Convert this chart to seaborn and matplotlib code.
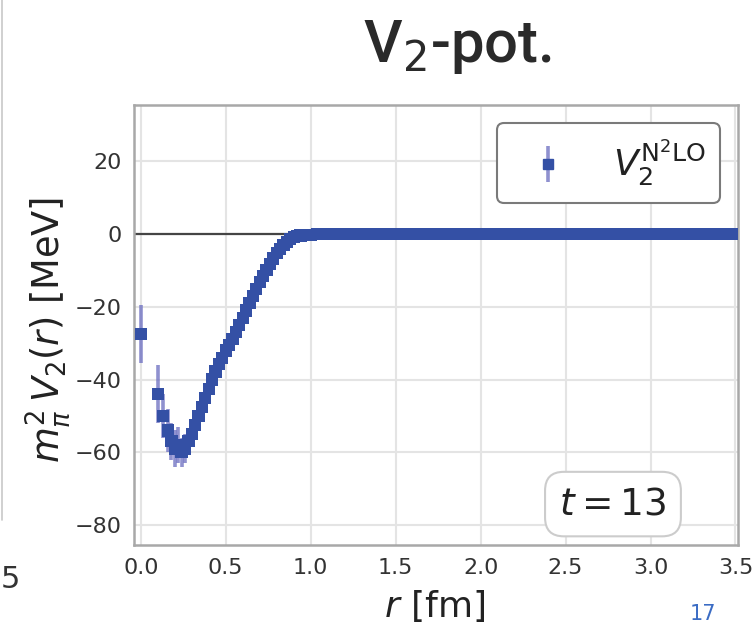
import numpy as np
import pandas as pd
import matplotlib
matplotlib.use("Agg")
import matplotlib.pyplot as plt
from matplotlib.lines import Line2D
from matplotlib.legend_handler import HandlerTuple
import seaborn as sns

# ---- data ----
r_core = [0.00, 0.10, 0.13, 0.16, 0.18, 0.20, 0.22, 0.24, 0.26, 0.28,
          0.30, 0.32, 0.34, 0.36, 0.38, 0.40, 0.42, 0.44, 0.46, 0.48,
          0.50, 0.52, 0.54, 0.56, 0.58, 0.60, 0.62, 0.64, 0.66, 0.68,
          0.70, 0.72, 0.74, 0.76, 0.78, 0.80, 0.82, 0.84, 0.86, 0.88,
          0.90, 0.92, 0.94, 0.96, 0.98, 1.00]
v_core = [-27.5, -44.0, -50.0, -54.0, -57.0, -59.0, -58.0, -60.0, -59.0, -57.0,
          -55.0, -52.5, -50.0, -47.5, -45.0, -42.5, -40.0, -37.8, -35.8, -34.0,
          -32.0, -30.5, -28.8, -27.0, -25.0, -23.0, -21.0, -19.0, -17.0, -15.0,
          -13.2, -11.5, -9.8, -8.2, -6.7, -5.3, -4.0, -3.0, -2.1, -1.4,
          -0.9, -0.6, -0.4, -0.3, -0.2, -0.2]
e_core = [8.0, 8.0, 6.0, 6.0, 5.0, 5.0, 5.0, 4.0, 4.0, 3.0,
          3.0, 2.5, 2.5, 2.5, 2.0, 2.0, 2.0, 2.0, 2.0, 2.0,
          2.0, 2.0, 2.0, 2.0, 1.5, 1.5, 1.5, 1.5, 1.5, 1.5,
          1.5, 1.5, 1.5, 1.5, 1.5, 1.5, 1.5, 1.5, 1.5, 1.5,
          1.5, 1.5, 1.5, 1.5, 1.5, 1.5]
r_tail = [1.04, 1.08, 1.12, 1.16, 1.20, 1.24, 1.28, 1.32, 1.36, 1.40,
          1.44, 1.48, 1.52, 1.56, 1.60, 1.64, 1.68, 1.72, 1.76, 1.80,
          1.84, 1.88, 1.92, 1.96, 2.00, 2.04, 2.08, 2.12, 2.16, 2.20,
          2.24, 2.28, 2.32, 2.36, 2.40, 2.44, 2.48, 2.52, 2.56, 2.60,
          2.64, 2.68, 2.72, 2.76, 2.80, 2.84, 2.88, 2.92, 2.96, 3.00,
          3.04, 3.08, 3.12, 3.16, 3.20, 3.24, 3.28, 3.32, 3.36, 3.40,
          3.44, 3.48, 3.52, 3.56]
v_tail_level = 0.0
e_tail_level = 1.6

x_ticks = [0.0, 0.5, 1.0, 1.5, 2.0, 2.5, 3.0, 3.5]
y_ticks = [-80, -60, -40, -20, 0, 20]

df = pd.DataFrame({
    "r": r_core + r_tail,
    "V": v_core + [v_tail_level] * len(r_tail),
    "err": e_core + [e_tail_level] * len(r_tail),
})

# ---- style ----
sns.set_theme(style="whitegrid")
plt.rcParams["font.family"] = ["DejaVu Sans"]

blue = "#3450a5"
ebar = "#6a6cc0"

fig = plt.figure(figsize=(7.54, 6.25), dpi=100)
ax = fig.add_axes([134 / 754, 1 - 545 / 625, 604 / 754, 440 / 625])
ax.set_facecolor("white")

ax.axhline(0, color="#444444", lw=1.6, zorder=1)

errc = ax.errorbar(df["r"], df["V"], yerr=df["err"], fmt="none",
                   ecolor=ebar, elinewidth=2.6, alpha=0.75, zorder=2)
sns.scatterplot(data=df, x="r", y="V", marker="s", s=78, color=blue,
                edgecolor="none", linewidth=0, ax=ax, zorder=3, legend=False)

ax.set_xlim(-0.04, 3.515)
ax.set_ylim(-85.5, 35.5)
ax.set_xticks(x_ticks)
ax.set_yticks(y_ticks)
ax.tick_params(axis="both", labelsize=16, labelcolor="#333333",
               length=4, width=1.2, color="#666666", pad=5, direction="out")
ax.grid(True, color="#e4e4e4", lw=1.5)
for sp in ax.spines.values():
    sp.set_color("#a8a8a8")
    sp.set_linewidth(1.8)

ax.set_xlabel(r"$r$ [fm]", fontsize=26, color="#222222")
ax.set_ylabel(r"$m_\pi^2\, V_2(r)$ [MeV]", fontsize=26.5, color="#222222")
ax.xaxis.set_label_coords(0.497, -0.098)
ax.yaxis.set_label_coords(-0.102, 0.489)

marker_proxy = Line2D([], [], marker="s", ls="none", color=blue, markersize=7)
leg = ax.legend([(errc, marker_proxy)], [r"$V_2^{\mathrm{N^2LO}}$"],
                handler_map={tuple: HandlerTuple(ndivide=1)},
                loc="upper right", fontsize=26, frameon=True, fancybox=True,
                borderaxespad=0.5, framealpha=1.0)
leg.get_frame().set_edgecolor("#7a7a7a")
leg.get_frame().set_linewidth(1.5)
for t in leg.get_texts():
    t.set_color("#222222")

ax.text(0.793, 0.093, r"$t = 13$", transform=ax.transAxes, fontsize=27,
        ha="center", va="center", color="#222222",
        bbox=dict(boxstyle="round,pad=0.38,rounding_size=0.5",
                  facecolor="white", edgecolor="#cccccc", linewidth=1.5))

fig.text(457 / 754, 1 - 62 / 625, r"V$_2$-pot.", fontsize=43,
         family=["Roboto", "DejaVu Sans"], weight="medium",
         ha="center", va="baseline", color="#2a2a2a")

# page artefacts visible at the crop edges
fig.add_artist(Line2D([0.002, 0.002], [1 - 520 / 625, 1.0],
                      transform=fig.transFigure, color="#c8c8c8", lw=1.2))
fig.text(0.001, 1 - 588 / 625, "5", fontsize=22, color="#333333",
         ha="left", va="baseline")
fig.text(690 / 754, 0.002, "17", fontsize=15, color="#3b6cc4",
         ha="left", va="bottom")

fig.savefig("out.png", dpi=100)
